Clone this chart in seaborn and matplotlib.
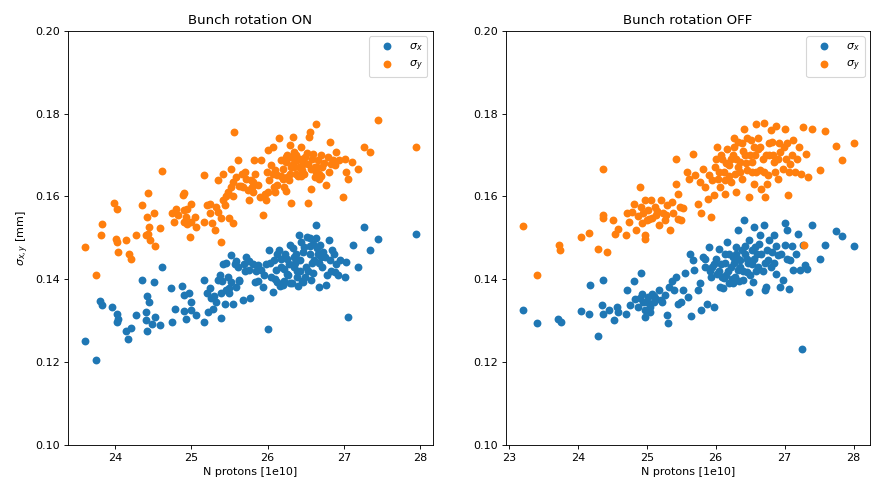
import matplotlib
matplotlib.use("Agg")
import matplotlib.pyplot as plt
import seaborn as sns

# ---- Bunch rotation ON ----
n_on_sx = [23.60, 23.75, 23.80, 23.83, 23.96, 24.02, 24.03, 24.04, 24.14, 24.17, 24.21, 24.28,
           24.35, 24.40, 24.41, 24.42, 24.45, 24.42, 24.48, 24.51, 24.52, 24.59, 24.62, 24.74,
           24.75, 24.79, 24.88, 24.90, 24.91, 24.93, 24.97, 24.99, 25.00, 25.06, 25.16, 25.17,
           25.20, 25.22, 25.24, 25.26, 25.28, 25.33, 25.35, 25.37, 25.39, 25.39, 25.41, 25.44,
           25.46, 25.48, 25.50, 25.52, 25.52, 25.55, 25.57, 25.59, 25.61, 25.63, 25.68, 25.69,
           25.72, 25.76, 25.77, 25.81, 25.83, 25.87, 25.92, 25.94, 25.98, 26.00, 26.02, 26.05,
           26.07, 26.09, 26.11, 26.13, 26.15, 26.17, 26.20, 26.23, 26.25, 26.28, 26.30, 26.32,
           26.34, 26.37, 26.39, 26.41, 26.43, 26.46, 26.48, 26.50, 26.52, 26.55, 26.57, 26.59,
           26.61, 26.64, 26.66, 26.68, 26.69, 26.72, 26.75, 26.77, 26.80, 26.82, 26.85, 26.88,
           26.90, 26.95, 27.01, 27.05, 27.03, 27.12, 27.18, 27.27, 27.34, 27.45, 27.95,
           26.10, 26.18, 26.27, 26.35, 26.42, 26.47, 26.53, 26.58, 26.63, 26.70, 26.78, 26.22,
           26.30, 26.40, 26.55, 26.65, 25.95, 25.88, 25.70, 25.58,
           25.45, 25.62, 25.75, 25.85, 26.03, 26.12, 26.16, 26.26, 26.33, 26.38, 26.44, 26.49,
           26.56, 26.60, 26.67, 26.73, 26.83, 26.87, 26.92, 25.30, 25.50, 25.40, 26.45, 26.36,
           26.21]
sx_on = [0.1251, 0.1205, 0.1347, 0.1337, 0.1332, 0.1317, 0.1297, 0.1305, 0.1275, 0.1255, 0.1283, 0.1313,
         0.1398, 0.1321, 0.1301, 0.1359, 0.1345, 0.1275, 0.1293, 0.1394, 0.1309, 0.1289, 0.1430, 0.1380,
         0.1297, 0.1329, 0.1384, 0.1362, 0.1324, 0.1303, 0.1366, 0.1346, 0.1327, 0.1313, 0.1297, 0.1398,
         0.1366, 0.1321, 0.1378, 0.1354, 0.1329, 0.1345, 0.1398, 0.1410, 0.1307, 0.1366, 0.1438, 0.1341,
         0.1374, 0.1406, 0.1366, 0.1458, 0.1394, 0.1341, 0.1438, 0.1382, 0.1430, 0.1398, 0.1350, 0.1438,
         0.1454, 0.1422, 0.1354, 0.1438, 0.1394, 0.1434, 0.1422, 0.1382, 0.1438, 0.1281, 0.1470, 0.1406,
         0.1370, 0.1446, 0.1422, 0.1394, 0.1470, 0.1430, 0.1386, 0.1462, 0.1414, 0.1438, 0.1482, 0.1390,
         0.1430, 0.1462, 0.1406, 0.1506, 0.1446, 0.1394, 0.1478, 0.1430, 0.1502, 0.1462, 0.1398, 0.1486,
         0.1446, 0.1530, 0.1462, 0.1382, 0.1482, 0.1430, 0.1454, 0.1386, 0.1494, 0.1446, 0.1470, 0.1418,
         0.1438, 0.1446, 0.1406, 0.1310, 0.1442, 0.1482, 0.1430, 0.1526, 0.1470, 0.1498, 0.1509,
         0.1400, 0.1450, 0.1410, 0.1455, 0.1420, 0.1465, 0.1420, 0.1440, 0.1500, 0.1455, 0.1410, 0.1395,
         0.1390, 0.1385, 0.1480, 0.1475, 0.1410, 0.1395, 0.1420, 0.1445,
         0.1440, 0.1395, 0.1445, 0.1420, 0.1440, 0.1460, 0.1385, 0.1450, 0.1475, 0.1420, 0.1490, 0.1405,
         0.1500, 0.1415, 0.1440, 0.1465, 0.1420, 0.1460, 0.1410, 0.1360, 0.1380, 0.1395, 0.1395, 0.1440,
         0.1425]

n_on_sy = [23.60, 23.75, 23.81, 23.83, 23.99, 24.03, 24.01, 24.03, 24.04, 24.14, 24.18, 24.21,
           24.28, 24.35, 24.43, 24.42, 24.44, 24.40, 24.43, 24.46, 24.51, 24.52, 24.59, 24.62,
           24.75, 24.77, 24.80, 24.90, 24.89, 24.90, 24.90, 24.93, 24.95, 24.99, 25.00, 24.98,
           25.06, 25.16, 25.17, 25.20, 25.24, 25.25, 25.27, 25.31, 25.32, 25.35, 25.35, 25.39,
           25.39, 25.42, 25.41, 25.44, 25.46, 25.48, 25.49, 25.52, 25.52, 25.55, 25.56, 25.55,
           25.59, 25.61, 25.62, 25.66, 25.68, 25.70, 25.72, 25.74, 25.76, 25.79, 25.81, 25.82,
           25.84, 25.87, 25.92, 25.94, 25.97, 25.98, 25.99, 26.00, 26.02, 26.05, 26.07, 26.08,
           26.10, 26.13, 26.15, 26.17, 26.20, 26.22, 26.24, 26.24, 26.25, 26.29, 26.31, 26.31,
           26.33, 26.35, 26.37, 26.39, 26.41, 26.44, 26.46, 26.48, 26.53, 26.54, 26.55, 26.57,
           26.57, 26.59, 26.62, 26.64, 26.65, 26.67, 26.70, 26.72, 26.76, 26.79, 26.82, 26.83,
           26.86, 26.90, 26.94, 26.99, 27.01, 27.03, 27.05, 27.11, 27.18, 27.27, 27.34, 27.45,
           27.95,
           26.24, 26.29, 26.33, 26.37, 26.42, 26.45, 26.49, 26.53, 26.62, 26.66, 26.68, 26.29,
           26.20, 26.13, 26.07, 26.00, 25.90, 25.81,
           26.10, 26.18, 26.26, 26.34, 26.40, 26.47, 26.52, 26.58, 26.63, 26.70, 26.74, 26.80,
           26.88, 25.65, 25.78, 25.55, 24.82, 24.95, 25.05, 26.28, 26.36, 26.44]
sy_on = [0.1477, 0.1410, 0.1508, 0.1533, 0.1584, 0.1569, 0.1498, 0.1489, 0.1465, 0.1494, 0.1460, 0.1450,
         0.1507, 0.1579, 0.1609, 0.1550, 0.1526, 0.1506, 0.1510, 0.1496, 0.1560, 0.1481, 0.1525, 0.1662,
         0.1559, 0.1539, 0.1570, 0.1567, 0.1603, 0.1608, 0.1538, 0.1550, 0.1534, 0.1581, 0.1539, 0.1502,
         0.1526, 0.1539, 0.1651, 0.1579, 0.1559, 0.1581, 0.1536, 0.1518, 0.1575, 0.1639, 0.1563, 0.1490,
         0.1547, 0.1655, 0.1591, 0.1579, 0.1600, 0.1611, 0.1547, 0.1667, 0.1623, 0.1635, 0.1756, 0.1536,
         0.1647, 0.1687, 0.1625, 0.1655, 0.1623, 0.1659, 0.1643, 0.1615, 0.1591, 0.1623, 0.1611, 0.1687,
         0.1655, 0.1627, 0.1687, 0.1555, 0.1607, 0.1591, 0.1659, 0.1711, 0.1639, 0.1675, 0.1720, 0.1623,
         0.1611, 0.1651, 0.1740, 0.1687, 0.1667, 0.1623, 0.1695, 0.1613, 0.1647, 0.1724, 0.1584, 0.1671,
         0.1744, 0.1707, 0.1655, 0.1687, 0.1671, 0.1720, 0.1679, 0.1655, 0.1584, 0.1744, 0.1756, 0.1667,
         0.1617, 0.1703, 0.1647, 0.1774, 0.1671, 0.1655, 0.1699, 0.1671, 0.1627, 0.1695, 0.1732, 0.1679,
         0.1687, 0.1707, 0.1687, 0.1599, 0.1691, 0.1659, 0.1643, 0.1683, 0.1667, 0.1720, 0.1707, 0.1784,
         0.1720,
         0.1683, 0.1695, 0.1679, 0.1699, 0.1691, 0.1663, 0.1695, 0.1679, 0.1671, 0.1687, 0.1643, 0.1655,
         0.1643, 0.1627, 0.1655, 0.1611, 0.1599, 0.1635,
         0.1665, 0.1650, 0.1700, 0.1670, 0.1650, 0.1690, 0.1705, 0.1690, 0.1660, 0.1650, 0.1680, 0.1660,
         0.1675, 0.1625, 0.1640, 0.1600, 0.1555, 0.1570, 0.1550, 0.1640, 0.1690, 0.1650]

# ---- Bunch rotation OFF ----
n_off_sx = [23.20, 23.41, 23.72, 23.75, 24.05, 24.17, 24.18, 24.30, 24.35, 24.37, 24.37, 24.45,
            24.52, 24.57, 24.59, 24.70, 24.72, 24.76, 24.82, 24.83, 24.88, 24.92, 24.93, 24.95,
            24.97, 24.98, 25.02, 25.05, 25.07, 25.11, 25.14, 25.18, 25.22, 25.26, 25.30, 25.31,
            25.32, 25.36, 25.40, 25.43, 25.46, 25.50, 25.53, 25.56, 25.60, 25.63, 25.64, 25.67,
            25.69, 25.75, 25.77, 25.78, 25.82, 25.85, 25.88, 25.90, 25.93, 25.97, 25.98, 26.02,
            26.05, 26.06, 26.08, 26.12, 26.14, 26.17, 26.19, 26.22, 26.25, 26.28, 26.30, 26.32,
            26.33, 26.36, 26.40, 26.41, 26.43, 26.46, 26.48, 26.49, 26.52, 26.54, 26.56, 26.57,
            26.61, 26.64, 26.66, 26.70, 26.72, 26.73, 26.76, 26.78, 26.81, 26.84, 26.88, 26.90,
            26.94, 26.97, 27.00, 27.01, 27.04, 27.06, 27.08, 27.12, 27.17, 27.19, 27.23, 27.25,
            27.26, 27.29, 27.33, 27.39, 27.52, 27.59, 27.75, 27.83, 28.00,
            26.05, 26.15, 26.20, 26.27, 26.35, 26.38, 26.45, 26.50, 26.60, 26.68, 26.75, 26.85,
            26.95, 26.10, 26.25, 25.95, 26.40, 26.55,
            26.00, 26.09, 26.13, 26.18, 26.23, 26.29, 26.34, 26.42, 26.47, 26.53, 26.58, 26.63,
            26.71, 26.80, 26.87, 27.03, 27.10, 25.00, 25.10, 25.20, 24.90, 25.05, 25.85, 25.92,
            26.32]
sx_off = [0.1327, 0.1295, 0.1303, 0.1297, 0.1324, 0.1317, 0.1387, 0.1263, 0.1337, 0.1317, 0.1398, 0.1325,
          0.1301, 0.1333, 0.1321, 0.1317, 0.1373, 0.1337, 0.1396, 0.1353, 0.1333, 0.1416, 0.1365, 0.1345,
          0.1309, 0.1325, 0.1357, 0.1333, 0.1365, 0.1345, 0.1353, 0.1373, 0.1345, 0.1361, 0.1313, 0.1295,
          0.1381, 0.1397, 0.1373, 0.1406, 0.1341, 0.1345, 0.1373, 0.1416, 0.1357, 0.1462, 0.1311, 0.1446,
          0.1422, 0.1373, 0.1392, 0.1325, 0.1454, 0.1430, 0.1341, 0.1477, 0.1406, 0.1333, 0.1438, 0.1414,
          0.1474, 0.1381, 0.1438, 0.1402, 0.1462, 0.1490, 0.1390, 0.1430, 0.1454, 0.1406, 0.1478, 0.1422,
          0.1518, 0.1446, 0.1398, 0.1542, 0.1462, 0.1418, 0.1494, 0.1369, 0.1438, 0.1394, 0.1526, 0.1478,
          0.1430, 0.1506, 0.1462, 0.1530, 0.1373, 0.1381, 0.1446, 0.1494, 0.1466, 0.1506, 0.1414, 0.1458,
          0.1381, 0.1398, 0.1537, 0.1482, 0.1518, 0.1377, 0.1446, 0.1422, 0.1462, 0.1510, 0.1422, 0.1232,
          0.1482, 0.1434, 0.1426, 0.1530, 0.1450, 0.1482, 0.1516, 0.1505, 0.1481,
          0.1420, 0.1410, 0.1460, 0.1440, 0.1430, 0.1470, 0.1450, 0.1410, 0.1460, 0.1420, 0.1470, 0.1440,
          0.1460, 0.1380, 0.1390, 0.1430, 0.1420, 0.1450,
          0.1450, 0.1405, 0.1440, 0.1420, 0.1400, 0.1460, 0.1395, 0.1480, 0.1440, 0.1470, 0.1420, 0.1485,
          0.1440, 0.1430, 0.1480, 0.1450, 0.1480, 0.1345, 0.1360, 0.1350, 0.1355, 0.1320, 0.1450, 0.1420,
          0.1450]

n_off_sy = [23.20, 23.41, 23.73, 23.74, 24.05, 24.17, 24.29, 24.37, 24.36, 24.36, 24.42, 24.51,
            24.54, 24.58, 24.70, 24.71, 24.75, 24.78, 24.82, 24.84, 24.88, 24.90, 24.93, 24.95,
            24.97, 24.98, 24.97, 25.00, 25.02, 25.06, 25.08, 25.12, 25.14, 25.18, 25.21, 25.24,
            25.26, 25.30, 25.34, 25.37, 25.38, 25.42, 25.43, 25.45, 25.48, 25.50, 25.53, 25.58,
            25.62, 25.67, 25.70, 25.74, 25.77, 25.79, 25.82, 25.85, 25.89, 25.91, 25.93, 25.97,
            25.99, 26.02, 26.04, 26.07, 26.09, 26.12, 26.14, 26.17, 26.19, 26.22, 26.25, 26.28,
            26.30, 26.33, 26.36, 26.38, 26.41, 26.43, 26.46, 26.48, 26.51, 26.53, 26.55, 26.59,
            26.61, 26.64, 26.66, 26.70, 26.72, 26.73, 26.76, 26.80, 26.82, 26.84, 26.88, 26.90,
            26.94, 26.97, 27.00, 27.03, 27.05, 27.08, 27.12, 27.15, 27.21, 27.24, 27.26, 27.28,
            27.31, 27.34, 27.39, 27.52, 27.58, 27.74, 27.83, 28.00,
            26.15, 26.26, 26.35, 26.45, 26.50, 26.58, 26.62, 26.68, 26.78, 26.86, 26.92, 27.02,
            26.20, 26.40, 26.05, 25.95, 26.55, 26.74, 27.10, 26.30,
            26.08, 26.13, 26.22, 26.32, 26.38, 26.44, 26.52, 26.57, 26.65, 26.70, 26.77, 26.83,
            26.90, 26.99, 27.07, 27.18, 25.03, 25.15, 25.28, 24.92, 25.45, 26.00, 26.27]
sy_off = [0.1528, 0.1410, 0.1482, 0.1470, 0.1502, 0.1513, 0.1473, 0.1667, 0.1555, 0.1547, 0.1466, 0.1542,
          0.1510, 0.1522, 0.1506, 0.1559, 0.1539, 0.1563, 0.1581, 0.1518, 0.1553, 0.1623, 0.1535, 0.1559,
          0.1506, 0.1498, 0.1591, 0.1543, 0.1567, 0.1591, 0.1547, 0.1575, 0.1555, 0.1530, 0.1591, 0.1559,
          0.1543, 0.1579, 0.1518, 0.1587, 0.1559, 0.1691, 0.1631, 0.1607, 0.1575, 0.1543, 0.1571, 0.1659,
          0.1643, 0.1703, 0.1651, 0.1581, 0.1635, 0.1559, 0.1667, 0.1623, 0.1595, 0.1651, 0.1551, 0.1603,
          0.1671, 0.1719, 0.1643, 0.1623, 0.1691, 0.1659, 0.1607, 0.1715, 0.1675, 0.1635, 0.1699, 0.1655,
          0.1611, 0.1732, 0.1683, 0.1643, 0.1764, 0.1699, 0.1663, 0.1599, 0.1736, 0.1683, 0.1631, 0.1774,
          0.1715, 0.1663, 0.1619, 0.1778, 0.1599, 0.1699, 0.1651, 0.1760, 0.1732, 0.1683, 0.1770, 0.1643,
          0.1707, 0.1667, 0.1764, 0.1728, 0.1603, 0.1679, 0.1736, 0.1659, 0.1720, 0.1655, 0.1768, 0.1482,
          0.1703, 0.1647, 0.1762, 0.1665, 0.1758, 0.1721, 0.1688, 0.1728,
          0.1680, 0.1720, 0.1660, 0.1740, 0.1700, 0.1660, 0.1740, 0.1690, 0.1700, 0.1660, 0.1730, 0.1690,
          0.1650, 0.1710, 0.1660, 0.1640, 0.1720, 0.1630, 0.1700, 0.1690,
          0.1700, 0.1640, 0.1690, 0.1670, 0.1730, 0.1680, 0.1660, 0.1700, 0.1720, 0.1660, 0.1730, 0.1700,
          0.1690, 0.1720, 0.1660, 0.1690, 0.1545, 0.1565, 0.1555, 0.1575, 0.1545, 0.1690, 0.1740]

titles = ["Bunch rotation ON", "Bunch rotation OFF"]
yticks = [0.10, 0.12, 0.14, 0.16, 0.18, 0.20]

DPI = 80
fig = plt.figure(figsize=(871 / DPI, 485 / DPI), dpi=DPI)
ax_on = fig.add_axes([0.078, 0.0825, 0.419, 0.854])
ax_off = fig.add_axes([0.581, 0.0825, 0.418, 0.854])

panels = [
    (ax_on, n_on_sx, sx_on, n_on_sy, sy_on),
    (ax_off, n_off_sx, sx_off, n_off_sy, sy_off),
]

for (ax, nx, sx, ny, sy), title in zip(panels, titles):
    sns.scatterplot(x=nx, y=sx, ax=ax, color="C0", s=50, linewidth=0,
                    label=r"$\sigma_x$")
    sns.scatterplot(x=ny, y=sy, ax=ax, color="C1", s=50, linewidth=0,
                    label=r"$\sigma_y$")
    ax.set_ylim(0.10, 0.20)
    ax.set_yticks(yticks)
    ax.set_yticklabels([f"{t:.2f}" for t in yticks])
    ax.set_xlabel("N protons [1e10]")
    ax.set_title(title)
    ax.legend(loc="upper right", handlelength=2.4)

ax_on.set_ylabel(r"$\sigma_{x,y}$ [mm]")

fig.savefig("out.png", dpi=DPI)
